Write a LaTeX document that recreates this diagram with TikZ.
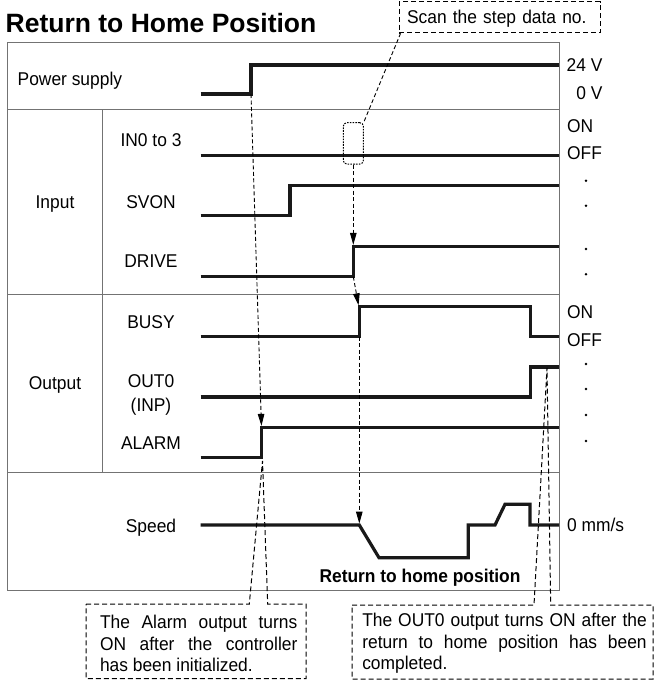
\documentclass[tikz,border=0pt]{standalone}
\usepackage{fontspec}
\setmainfont{Liberation Sans}
\newfontfamily\lblfont[FakeStretch=0.94]{Liberation Sans}
\usetikzlibrary{arrows.meta}
\hbadness=10000
\begin{document}
\begin{tikzpicture}[x=1pt,y=-1pt,
  sig/.style={line width=3.2pt, line join=miter, draw=black!90},
  gridline/.style={line width=1pt, draw=black!55},
  dsh/.style={line width=0.9pt, dash pattern=on 4pt off 2.5pt},
  arr/.style={dsh, shorten >=1.4pt, -{Triangle[length=12pt,width=6.5pt]}},
  cbox/.style={line width=1pt, dash pattern=on 5pt off 3pt},
  lbl/.style={inner sep=0pt, text height=13.2pt, text depth=0pt, font=\lblfont\fontsize{18.5}{21.7}\selectfont},
  para/.style={inner sep=0pt, align=justify, font=\lblfont\fontsize{18.5}{21.7}\selectfont},
  dot/.style={circle, fill=black, inner sep=0pt, minimum size=2.8pt},
]
\fill[white] (0,0) rectangle (655,681);
\useasboundingbox (0,0) rectangle (655,681);

% title
\node[anchor=base west, inner sep=0pt, font=\fontsize{26.5}{30}\selectfont\bfseries] (title) at (5.5,32.3) {Return to Home Position};

% table
\draw[gridline] (7.5,42) rectangle (559,590);
\draw[gridline] (7.5,109.5) -- (559,109.5);
\draw[gridline] (7.5,294.3) -- (559,294.3);
\draw[gridline] (7.5,472.7) -- (559,472.7);
\draw[gridline] (102.7,109.5) -- (102.7,472.7);

% left labels
\node[lbl, anchor=west] (ps) at (17.5,79) {Power supply};
\node[lbl] (in) at (55,202) {Input};
\node[lbl] (out) at (55,383) {Output};
\node[lbl] (in0) at (151,140) {IN0 to 3};
\node[lbl] (svon) at (151,201.7) {SVON};
\node[lbl] (drive) at (151,260.7) {DRIVE};
\node[lbl] (busy) at (151,321.7) {BUSY};
\node[lbl] (out0) at (151,380.7) {OUT0};
\node[lbl] (inp) at (151,405) {(INP)};
\node[lbl] (alarm) at (151,443.3) {ALARM};
\node[lbl] (speed) at (151,525.7) {Speed};
\node[lbl, font=\lblfont\fontsize{18.5}{21.7}\selectfont\bfseries] (rth) at (420,576) {Return to home position};

% right labels
\node[lbl, anchor=east] (v24) at (602.7,65) {24 V};
\node[lbl, anchor=east] (v0) at (602.7,92.7) {0 V};
\node[lbl, anchor=west] (on1) at (567,126) {ON};
\node[lbl, anchor=west] (off1) at (567,153.3) {OFF};
\node[lbl, anchor=west] (on2) at (567,312) {ON};
\node[lbl, anchor=west] (off2) at (567,340) {OFF};
\node[lbl, anchor=west] (mms) at (567,525) {0 mm/s};
\foreach \y [count=\i] in {180.7,205.7,249,274.3,364,389,415,441}
  \node[dot] (d\i) at (586,\y) {};

% signals
\draw[sig] (200.7,94) -- (251,94) -- (251,65) -- (559,65);
\draw[sig] (200.7,155.3) -- (559,155.3);
\draw[sig] (200.7,215.7) -- (290,215.7) -- (290,185.5) -- (559,185.5);
\draw[sig] (200.7,276.7) -- (353.3,276.7) -- (353.3,246.3) -- (559,246.3);
\draw[sig] (200.7,336.7) -- (359.3,336.7) -- (359.3,306.7) -- (530.5,306.7) -- (530.5,336.7) -- (559,336.7);
\draw[sig] (200.7,397) -- (530.5,397) -- (530.5,367) -- (559,367);
\draw[sig] (200.7,457.7) -- (261.5,457.7) -- (261.5,427.3) -- (559,427.3);
\draw[sig] (200.7,525) -- (359.3,525) -- (379,557.7) -- (468.3,557.7) -- (468.3,525) -- (495,525) -- (505,504.3) -- (530,504.3) -- (530,525) -- (559,525);

% key coordinates
\coordinate (pwrB) at (251,94);
\coordinate (almT) at (261.5,427.3);
\coordinate (drvT) at (353.3,246.3);
\coordinate (drvB) at (353.3,276.7);
\coordinate (bsyT) at (358.8,306.7);
\coordinate (bsyB) at (359.3,336.7);
\coordinate (spdS) at (359.3,525);
\coordinate (almB) at (262.5,461);
\coordinate (outT) at (547,368);

% scan callout
\node[draw, cbox, anchor=north west, minimum height=31.1pt, text width=185pt, inner xsep=8pt, inner ysep=0pt, align=left, text height=13.2pt, text depth=0pt, font=\lblfont\fontsize{18.5}{21.7}\selectfont] (scan) at (398.6,1.2) {Scan the step data no.};
\node[draw, line width=1pt, dash pattern=on 1.6pt off 1.2pt, rounded corners=3.5pt, minimum width=20pt, minimum height=41.3pt, inner sep=0pt] (scanrect) at (353.3,143.35) {};
\draw[dsh] ([xshift=2pt]scan.south west) -- (scanrect.north east);

% arrows
\draw[arr] (pwrB) -- (almT);
\draw[arr] (scanrect.south) -- (drvT);
\draw[arr] (drvB) -- (bsyT);
\draw[arr] (bsyB) -- (spdS);

% bottom callouts
\draw[cbox] (86,604) -- (249.3,604) -- (almB) -- (267.7,604) -- (306,604) -- (306,678.5) -- (86,678.5) -- cycle;
\node[para, text width=197.3pt] (alarmnote) at (198.7,643.5) {The Alarm output turns\linebreak ON after the controller\linebreak has been initialized.};
\draw[cbox] (352,605) -- (534,605) -- (outT) -- (550.7,605) -- (653,605) -- (653,679) -- (352,679) -- cycle;
\node[para, text width=284.4pt] (outnote) at (504.5,643.5) {The OUT0 output turns ON after the\linebreak return to home position has been\linebreak completed.};
\end{tikzpicture}
\end{document}
